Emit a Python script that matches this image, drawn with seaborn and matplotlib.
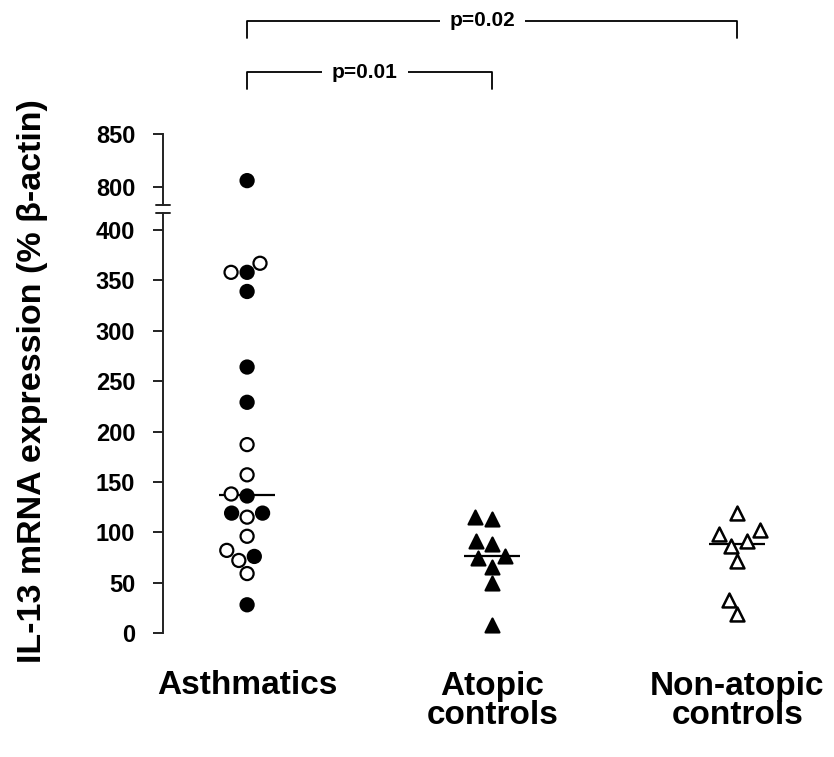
import pandas as pd
import numpy as np
import matplotlib
matplotlib.use("Agg")
import matplotlib.pyplot as plt
import matplotlib.transforms as mtransforms
import seaborn as sns

# values (% beta-actin)
categories = ["Asthmatics", "Atopic\ncontrols", "Non-atopic\ncontrols"]
asthma_filled = [806, 358, 339, 264, 229, 136, 119, 119, 76, 28]
asthma_open = [367, 358, 187, 157, 138, 115, 96, 82, 72, 59]
atopic = [115, 113, 91, 88, 76, 74, 66, 50, 8]
nonatopic = [119, 102, 98, 91, 86, 71, 33, 19]

low_ticks = [0, 50, 100, 150, 200, 250, 300, 350, 400]
high_ticks = [800, 850]
pvals = ["p=0.01", "p=0.02"]

sns.set_style("white")
plt.rcParams["font.family"] = ["Liberation Sans", "DejaVu Sans"]
plt.rcParams["font.weight"] = "bold"
plt.rcParams["text.color"] = "black"
plt.rcParams["xtick.color"] = "black"
plt.rcParams["ytick.color"] = "black"

df = pd.concat([
    pd.DataFrame({"group": categories[0], "value": asthma_filled, "fill": "filled"}),
    pd.DataFrame({"group": categories[0], "value": asthma_open, "fill": "open"}),
    pd.DataFrame({"group": categories[1], "value": atopic, "fill": "filled"}),
    pd.DataFrame({"group": categories[2], "value": nonatopic, "fill": "open"}),
], ignore_index=True)

W, H = 834, 757
fig = plt.figure(figsize=(W / 100, H / 100), dpi=100)
ax_lo = fig.add_axes([163 / W, (H - 633) / H, 648 / W, 420 / H])
ax_hi = fig.add_axes([163 / W, (H - 205) / H, 648 / W, 71 / H])

for ax in (ax_lo, ax_hi):
    sns.swarmplot(data=df[df.group == categories[0]], x="group", y="value",
                  hue="fill", palette={"filled": "black", "open": "white"},
                  order=categories, size=9.4, edgecolor="black", linewidth=1.6,
                  legend=False, ax=ax)
    sns.swarmplot(data=df[df.group == categories[1]], x="group", y="value",
                  order=categories, color="black", marker="^", size=10,
                  edgecolor="black", linewidth=1.6, ax=ax)
    sns.swarmplot(data=df[df.group == categories[2]], x="group", y="value",
                  order=categories, color="white", marker="^", size=10,
                  edgecolor="black", linewidth=1.8, ax=ax)

# median bars
sns.pointplot(data=df, x="group", y="value", order=categories, estimator="median",
              errorbar=None, color="black", marker="_", markersize=40,
              markeredgewidth=1.6, linestyle="none", ax=ax_lo)

for ax in (ax_lo, ax_hi):
    ax.set_xlim(-0.343, 2.3)
    sns.despine(ax=ax, bottom=True)
    ax.spines["left"].set_linewidth(1.4)
    ax.spines["left"].set_color("#222222")
    ax.tick_params(axis="y", direction="out", length=7, width=1.4, pad=13,
                   labelsize=17, left=True, color="#222222", labelcolor="black")
    ax.set_ylabel("")
    ax.set_xlabel("")

ax_lo.set_ylim(0, 416.9)
ax_lo.set_yticks(low_ticks)
ax_lo.set_yticklabels([str(t) for t in low_ticks], fontweight="bold")
ax_hi.set_ylim(783, 850)
ax_hi.set_yticks(high_ticks)
ax_hi.set_yticklabels([str(t) for t in high_ticks], fontweight="bold")
ax_hi.set_xticks([])

ax_lo.set_xticks(range(len(categories)))
ax_lo.set_xticklabels(categories, fontsize=24, fontweight="bold", linespacing=0.95)
ax_lo.tick_params(axis="x", length=0, pad=27, labelcolor="black")

# axis break caps
d = 0.011
ax_hi.plot([-d, d], [0, 0], transform=ax_hi.transAxes, color="#222222", lw=1.4, clip_on=False)
ax_lo.plot([-d, d], [1, 1], transform=ax_lo.transAxes, color="#222222", lw=1.4, clip_on=False)

fig.text(33 / W, 1 - 381 / H, "IL-13 mRNA expression (% \u03b2-actin)", rotation=90,
         ha="center", va="center", fontsize=24.5, fontweight="bold")

# significance brackets
tr = mtransforms.blended_transform_factory(ax_lo.transData, fig.transFigure)
for (x0, x1), ytop, leg, label in [((0, 1), 72, 17, pvals[0]), ((0, 2), 21, 17, pvals[1])]:
    yt = 1 - ytop / H
    yb = 1 - (ytop + leg) / H
    ax_lo.plot([x0, x0, x1, x1], [yb, yt, yt, yb], transform=tr, color="black",
               lw=1.3, clip_on=False)
    ax_lo.text((x0 + x1) / 2 - (0.04 if x1 == 2 else 0.02), yt, label, transform=tr,
               ha="center", va="center", fontsize=15, fontweight="bold",
               bbox=dict(facecolor="white", edgecolor="none", pad=7))

fig.savefig("out.png", dpi=100)
